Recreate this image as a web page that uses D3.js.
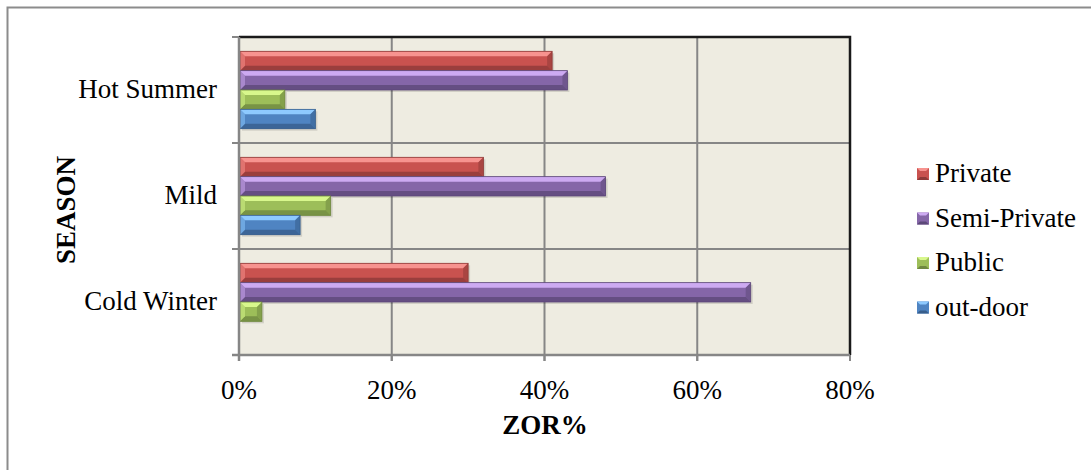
<!DOCTYPE html>
<html><head><meta charset="utf-8">
<script src="https://cdn.jsdelivr.net/npm/d3@7"></script>
<style>body{margin:0;background:#fff}svg{display:block}</style>
</head><body>
<svg id="c" width="1091" height="470"></svg>
<script>
const categories = ["Hot Summer", "Mild", "Cold Winter"];
const seriesNames = ["Private", "Semi-Private", "Public", "out-door"];
const privateVals = [41, 32, 30];
const semiPrivateVals = [43, 48, 67];
const publicVals = [6, 12, 3];
const outdoorVals = [10, 8, 0];
const xTicks = [0, 20, 40, 60, 80];
const xTitle = "ZOR%";
const yTitle = "SEASON";

const seriesVals = [privateVals, semiPrivateVals, publicVals, outdoorVals];
const colors = [
  {base:"#C9524F", light:"#F7938F", dark:"#8E3A38"},
  {base:"#8566A8", light:"#CDAAF2", dark:"#5C4878"},
  {base:"#9DBE59", light:"#D8F78C", dark:"#6F8840"},
  {base:"#4F84C2", light:"#8ECAFF", dark:"#375E8C"}
];

const svg = d3.select("#c");
const FONT = "'Liberation Serif','Times New Roman',serif";
const FS = 27;

// outer frame
svg.append("rect").attr("x",7.5).attr("y",7.5).attr("width",1100).attr("height",480)
  .attr("fill","#fff").attr("stroke","#8c8c8c").attr("stroke-width",2);

const L=239, R=850, T=37, B=355;
const x = d3.scaleLinear().domain([0,80]).range([L,R]);
const y = d3.scaleBand().domain(categories).range([T,B]).paddingInner(0.27).paddingOuter(0.135);
const yb = d3.scaleBand().domain(seriesNames).range([0,y.bandwidth()]);

// plot background
svg.append("rect").attr("x",L).attr("y",T).attr("width",R-L).attr("height",B-T).attr("fill","#EEECE1");

// vertical gridlines
svg.append("g").selectAll("line").data(xTicks.filter(d=>d>0 && d<80)).join("line")
  .attr("x1",d=>x(d)).attr("x2",d=>x(d)).attr("y1",T).attr("y2",B+6)
  .attr("stroke","#868686").attr("stroke-width",2);
// horizontal category separators
const bounds = d3.range(categories.length+1).map(i=>T+i*y.step());
svg.append("g").selectAll("line").data(bounds.slice(1,-1)).join("line")
  .attr("x1",L-7).attr("x2",R).attr("y1",d=>d).attr("y2",d=>d)
  .attr("stroke","#868686").attr("stroke-width",2);

// bars
const g = svg.append("g");
categories.forEach((cat,ci)=>{
  seriesNames.forEach((s,si)=>{
    const v = seriesVals[si][ci];
    if (v<=0) return;
    const x0 = x(0)+1, x1 = x(v);
    const y0 = y(cat)+yb(s), h = yb.bandwidth(), y1 = y0+h;
    const c = colors[si];
    const bv = Math.min(5, (x1-x0)/2);
    const bg = g.append("g");
    bg.append("rect").attr("x",x0+2).attr("y",y0+2).attr("width",x1-x0).attr("height",h)
      .attr("fill","#000").attr("opacity",0.12);
    bg.append("rect").attr("x",x0).attr("y",y0).attr("width",x1-x0).attr("height",h).attr("fill",c.base);
    bg.append("polygon").attr("points",[[x0,y0],[x1,y0],[x1-bv,y0+bv],[x0+bv,y0+bv]].join(" "))
      .attr("fill",c.light);
    bg.append("polygon").attr("points",[[x0,y1],[x1,y1],[x1-bv,y1-bv],[x0+bv,y1-bv]].join(" "))
      .attr("fill",c.dark).attr("opacity",0.8);
    bg.append("polygon").attr("points",[[x1,y0],[x1,y1],[x1-bv,y1-bv],[x1-bv,y0+bv]].join(" "))
      .attr("fill",c.dark).attr("opacity",0.55);
    bg.append("polygon").attr("points",[[x0,y0],[x0,y1],[x0+bv,y1-bv],[x0+bv,y0+bv]].join(" "))
      .attr("fill",c.light).attr("opacity",0.5);
    bg.append("rect").attr("x",x0).attr("y",y0).attr("width",x1-x0).attr("height",h)
      .attr("fill","none").attr("stroke",c.dark).attr("stroke-width",0.8);
  });
});

// top and right border (black)
svg.append("path").attr("d",`M${L},${T}H${R}V${B}`).attr("fill","none").attr("stroke","#1a1a1a").attr("stroke-width",2.5);

// left axis
svg.append("line").attr("x1",L).attr("x2",L).attr("y1",T).attr("y2",B+6).attr("stroke","#868686").attr("stroke-width",2.5);
svg.append("g").selectAll("line").data([bounds[0], bounds[bounds.length-1]]).join("line")
  .attr("x1",L-7).attr("x2",L).attr("y1",d=>d).attr("y2",d=>d).attr("stroke","#868686").attr("stroke-width",2);
// bottom axis
svg.append("line").attr("x1",L-7).attr("x2",R).attr("y1",B).attr("y2",B).attr("stroke","#868686").attr("stroke-width",2.5);
svg.append("g").selectAll("line").data(xTicks).join("line")
  .attr("x1",d=>x(d)).attr("x2",d=>x(d)).attr("y1",B).attr("y2",B+6).attr("stroke","#868686").attr("stroke-width",2);

// x tick labels
svg.append("g").selectAll("text").data(xTicks).join("text")
  .attr("x",d=>x(d)).attr("y",399).attr("text-anchor","middle")
  .attr("font-family",FONT).attr("font-size",FS).attr("fill","#000")
  .text(d=>d+"%");
// category labels
svg.append("g").selectAll("text").data(categories).join("text")
  .attr("x",217).attr("y",d=>y(d)+y.bandwidth()/2+8).attr("text-anchor","end")
  .attr("font-family",FONT).attr("font-size",FS).attr("fill","#000")
  .text(d=>d);
// axis titles
svg.append("text").attr("x",545).attr("y",434).attr("text-anchor","middle")
  .attr("font-family",FONT).attr("font-size",FS).attr("font-weight","bold").text(xTitle);
svg.append("text").attr("transform","translate(75,210) rotate(-90)").attr("text-anchor","middle")
  .attr("font-family",FONT).attr("font-size",FS).attr("font-weight","bold").text(yTitle);

// legend
const lg = svg.append("g");
seriesNames.forEach((s,i)=>{
  const cy = 174 + i*44.5;
  const c = colors[i];
  lg.append("rect").attr("x",917).attr("y",cy-6).attr("width",12).attr("height",12).attr("fill",c.base);
  lg.append("polygon").attr("points",[[917,cy-6],[929,cy-6],[926,cy-3],[920,cy-3]].join(" ")).attr("fill",c.light);
  lg.append("polygon").attr("points",[[917,cy+6],[929,cy+6],[926,cy+3],[920,cy+3]].join(" ")).attr("fill",c.dark);
  lg.append("text").attr("x",935).attr("y",cy+8).attr("font-family",FONT).attr("font-size",FS).attr("fill","#000").text(s);
});
</script>
</body></html>
